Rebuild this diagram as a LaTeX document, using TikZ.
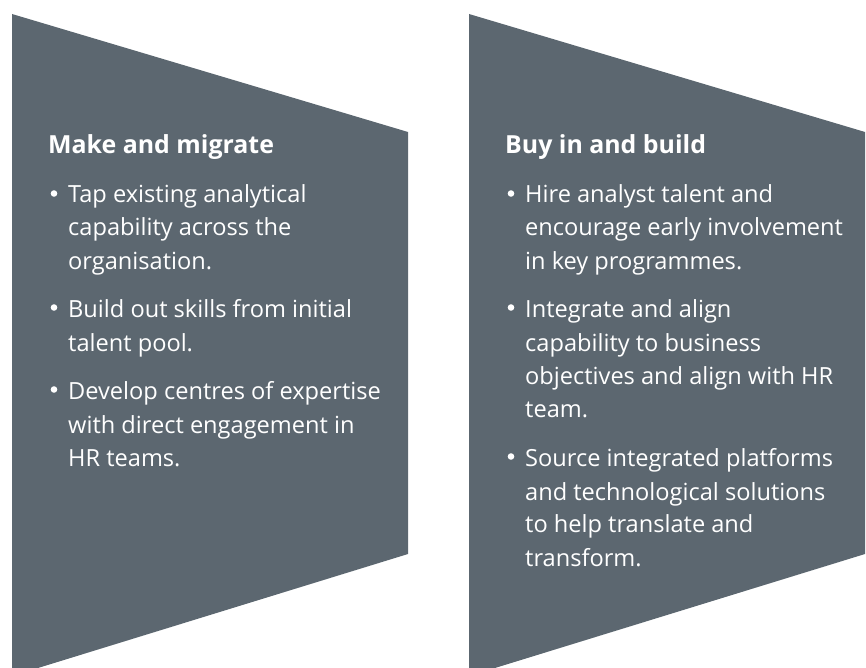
\documentclass[tikz,border=0pt]{standalone}
\usepackage{fontspec}
\setmainfont{Open Sans}
\definecolor{panel}{RGB}{92,103,112}
\begin{document}
\begin{tikzpicture}[x=1pt,y=-1pt,
  panelshape/.style={fill=panel,draw=none},
  txtline/.style={anchor=base west,text=white,inner sep=0pt,font=\fontsize{23.6}{28}\selectfont},
  titletxt/.style={anchor=base west,text=white,inner sep=0pt,font=\fontsize{24.9}{30}\selectfont\bfseries},
  dot/.style={circle,fill=white,draw=none,inner sep=0pt,minimum size=6.6pt}]
\useasboundingbox (0,0) rectangle (866,668);
\clip (0,0) rectangle (866,668);
% panels
\path[panelshape] (12,14) -- (408,132) -- (408,554) -- (12,676) -- cycle;
\path[panelshape] (469,14) -- (865,132) -- (865,554) -- (469,676) -- cycle;
% left panel text
\node[titletxt] (t1) at (48,154) {Make and migrate};
\foreach \y/\t [count=\i] in {203/Tap existing analytical, 236/capability across the, 269/organisation., 317/Build out skills from initial, 351/talent pool., 399/Develop centres of expertise, 433/with direct engagement in, 466/HR teams.}
  \node[txtline] (l\i) at (68,\y) {\t};
\foreach \y [count=\i] in {203,317,399}
  \node[dot] (lb\i) at (54,\y-9.5) {};
% right panel text
\node[titletxt] (t2) at (505,154) {Buy in and build};
\foreach \y/\t [count=\i] in {203/Hire analyst talent and, 236/encourage early involvement, 269/in key programmes., 317/Integrate and align, 351/capability to business, 384/objectives and align with HR, 417/team., 466/Source integrated platforms, 500/and technological solutions, 532/to help translate and, 566/transform.}
  \node[txtline] (r\i) at (525,\y) {\t};
\foreach \y [count=\i] in {203,317,466}
  \node[dot] (rb\i) at (511,\y-9.5) {};
\end{tikzpicture}
\end{document}
